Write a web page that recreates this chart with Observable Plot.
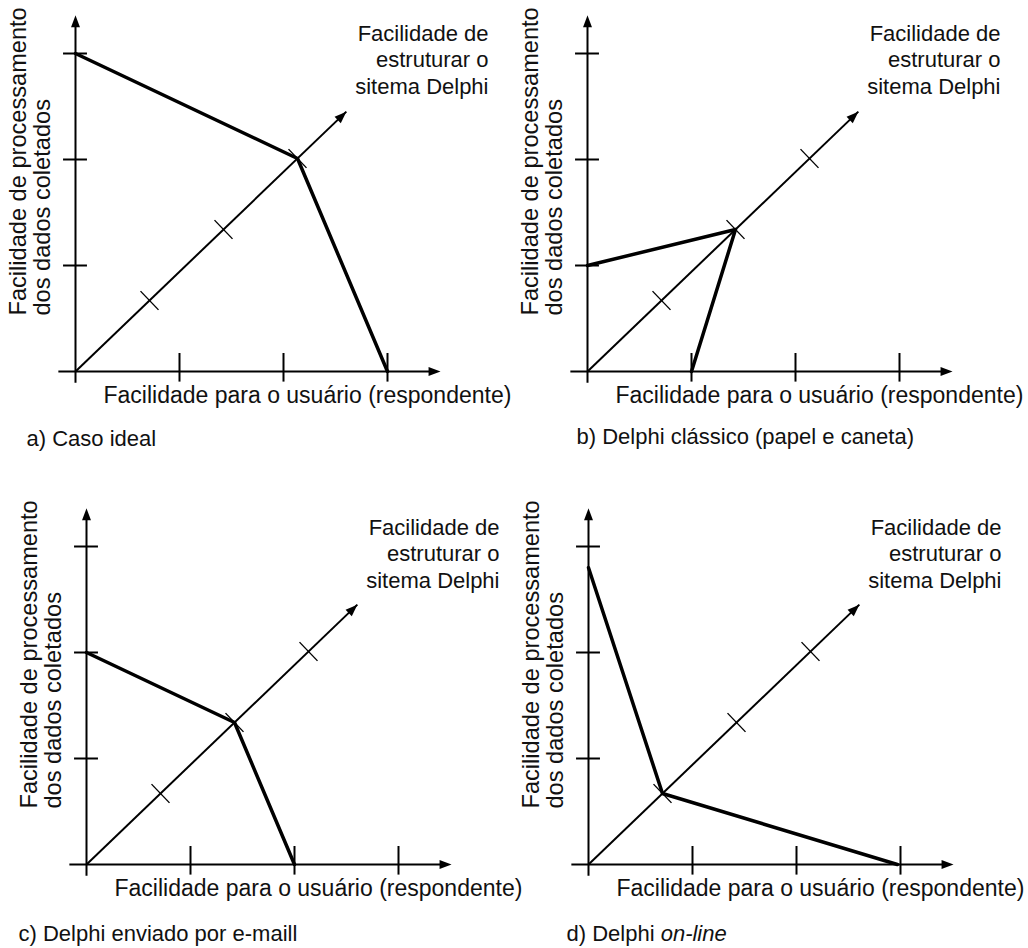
<!DOCTYPE html>
<html>
<head>
<meta charset="utf-8">
<script src="https://cdn.jsdelivr.net/npm/d3@7"></script>
<script src="https://cdn.jsdelivr.net/npm/@observablehq/plot@0.6"></script>
<style>
  body { margin: 0; background: #fff; }
  #chart { position: relative; width: 1028px; height: 948px; overflow: hidden; background: #fff; }
  #chart svg { position: absolute; }
</style>
</head>
<body>
<div id="chart"></div>
<script>
// ---------- data ----------
const panelIds = ["a", "b", "c", "d"];
const captions = ["a) Caso ideal", "b) Delphi clássico (papel e caneta)", "c) Delphi enviado por e-maill", "d) Delphi "];
const captionItalic = ["", "", "", "on-line"];
const userEase = [3, 1, 2, 2.97];          // x axis: Facilidade para o usuário
const processingEase = [3, 1, 2, 2.8];     // y axis: Facilidade de processamento
const structuringEase = [3, 2, 2, 1];      // depth axis: Facilidade de estruturar
const axisTicks = [1, 2, 3];
const labelUser = "Facilidade para o usuário (respondente)";
const labelProcessing = "Facilidade de processamento\ndos dados coletados";
const labelStructuring = "Facilidade de\nestruturar o\nsitema Delphi";

// ---------- layout ----------
const W = 514, H = 474;
const panelLeft = [0, 514, 0, 514], panelTop = [0, 0, 474, 474];
const originX = [75, 73, 86, 74], originY = [371, 371, 390, 390];
const captionX = [26, 62, 18, 52], captionBase = [445, 443, 466, 466];
const structTop = [-350, -350, -349, -349]; // relative to origin y
const unitX = 104, unitY = 106, depthX = 74, depthY = 71; // px per unit
const xAxisEnd = 3.51, yAxisEnd = 3.36, zAxisEnd = 3.66;
const font = "'Liberation Sans', Arial, Helvetica, sans-serif";

const kx = depthX / unitX, ky = depthY / unitY;
const project = (x, y, z) => ({x: x + z * kx, y: y + z * ky});
const dLen = Math.hypot(depthX, depthY);
const tickHalf = 13;
const perp = {x: (depthY / dLen) * tickHalf / unitX, y: -(depthX / dLen) * tickHalf / unitY};
const depthAngle = Math.atan2(depthX, depthY) * 180 / Math.PI;

const arrowHead = {
  draw(ctx) { ctx.moveTo(0, 0); ctx.lineTo(-4.5, 12); ctx.lineTo(4.5, 12); ctx.closePath(); }
};

function panel(i) {
  const ox = originX[i], oy = originY[i];
  const profile = [
    project(0, processingEase[i], 0),
    project(0, 0, structuringEase[i]),
    project(userEase[i], 0, 0)
  ];
  const zEnd = project(0, 0, zAxisEnd);
  const arrows = [
    {x: 0, y: yAxisEnd, r: 0},
    {x: xAxisEnd, y: 0, r: 90},
    {x: zEnd.x, y: zEnd.y, r: depthAngle}
  ];
  const txt = (text, opts) => Plot.text([text], {text: d => d, frameAnchor: "top-left", fontFamily: font, fill: "#111", ...opts});
  const svg = Plot.plot({
    width: W, height: H, margin: 0,
    x: {domain: [-ox / unitX, (W - ox) / unitX], axis: null},
    y: {domain: [-(H - oy) / unitY, oy / unitY], axis: null},
    style: {background: "transparent", overflow: "visible", maxWidth: "none", left: panelLeft[i] + "px", top: panelTop[i] + "px"},
    marks: [
      // axes
      Plot.ruleY([0], {x1: -0.16, x2: xAxisEnd - 0.05, stroke: "black", strokeWidth: 2}),
      Plot.ruleX([0], {y1: -0.11, y2: yAxisEnd - 0.05, stroke: "black", strokeWidth: 2}),
      Plot.link([0], {x1: 0, y1: 0, x2: zEnd.x, y2: zEnd.y, stroke: "black", strokeWidth: 2}),
      // ticks
      Plot.ruleX(axisTicks, {y1: -0.1, y2: 0.17, stroke: "black", strokeWidth: 2}),
      Plot.ruleY(axisTicks, {x1: -0.115, x2: 0.115, stroke: "black", strokeWidth: 2}),
      Plot.link(axisTicks, {
        x1: t => project(0, 0, t).x - perp.x, y1: t => project(0, 0, t).y - perp.y,
        x2: t => project(0, 0, t).x + perp.x, y2: t => project(0, 0, t).y + perp.y,
        stroke: "black", strokeWidth: 1.4
      }),
      // arrowheads
      Plot.dot(arrows, {x: "x", y: "y", rotate: "r", symbol: arrowHead, fill: "black", stroke: "none"}),
      // profile
      Plot.line(profile, {x: "x", y: "y", stroke: "black", strokeWidth: 3.5, strokeLinejoin: "round", strokeLinecap: "round"}),
      // labels
      txt(labelUser, {dx: ox + 28, dy: oy + 32 - 7.4, textAnchor: "start", lineAnchor: "middle", fontSize: 23}),
      txt(labelProcessing, {dx: ox - 66, dy: oy - 56, rotate: -90, textAnchor: "start", lineAnchor: "top", lineHeight: 1.0, fontSize: 23.6}),
      txt(labelStructuring, {dx: ox + 413, dy: oy + structTop[i], textAnchor: "end", lineAnchor: "top", lineHeight: 1.22, fontSize: 22}),
      txt(captions[i], {dx: captionX[i], dy: captionBase[i] - 7, textAnchor: "start", lineAnchor: "middle", fontSize: 22})
    ]
  });
  if (captionItalic[i]) {
    d3.select(svg).selectAll("text").filter(function() { return this.textContent === captions[i]; })
      .append("tspan").attr("font-style", "italic").text(captionItalic[i]);
  }
  svg.setAttribute("data-panel", panelIds[i]);
  return svg;
}

const chart = document.getElementById("chart");
panelIds.forEach((_, i) => chart.appendChild(panel(i)));
</script>
</body>
</html>
